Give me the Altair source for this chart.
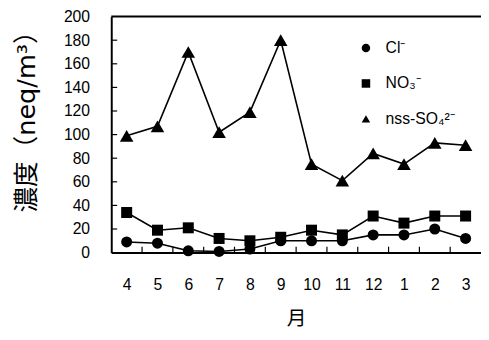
import json
import altair as alt
import pandas as pd

months = ["4", "5", "6", "7", "8", "9", "10", "11", "12", "1", "2", "3"]
series_names = ["Cl⁻", "NO₃⁻", "nss-SO₄²⁻"]
cl = [9, 8, 1.5, 1, 3, 10, 10, 10, 15, 15, 20, 12]
no3 = [34, 19, 21, 12, 10, 13, 19, 15, 31, 25, 31, 31]
so4 = [99, 107, 170, 102, 119, 180, 75, 61, 84, 75, 93, 91]
y_ticks = [20, 40, 60, 80, 100, 120, 140, 160, 180]
x_bounds = [i + 0.5 for i in range(len(months) - 1)]

rows = []
for name, vals in zip(series_names, [cl, no3, so4]):
    for i, v in enumerate(vals):
        rows.append({"idx": i, "month": months[i], "series": name, "value": v})
df = pd.DataFrame(rows)

W, H = 376, 240
FONT = "Liberation Sans"

xscale = alt.Scale(domain=[-0.5, len(months) - 0.5], nice=False, zero=False)
yscale = alt.Scale(domain=[0, 200], nice=False)

label_expr = json.dumps(months) + "[datum.value]"

x_axis = alt.Axis(
    values=list(range(len(months))),
    labelExpr=label_expr,
    labelOverlap=False,
    title="月",
    titleFont="Noto Sans CJK JP",
    titleFontSize=20,
    titleFontWeight="normal",
    titlePadding=16,
    labelFont=FONT,
    labelFontSize=16,
    labelPadding=25,
    ticks=False,
    grid=False,
    domainColor="black",
    domainWidth=2,
    labelColor="black",
    titleColor="black",
)
y_axis = alt.Axis(
    values=[0] + y_ticks + [200],
    labelOverlap=False,
    title="濃度（neq/m³）",
    titleFont="DejaVu Sans, Noto Sans CJK JP",
    titleFontSize=26,
    titleFontWeight="normal",
    titleX=-86,
    titleY=100,
    titleAlign="center",
    titleBaseline="middle",
    labelFont=FONT,
    labelFontSize=16,
    labelPadding=22,
    ticks=False,
    grid=False,
    domainColor="black",
    domainWidth=2,
    labelColor="black",
    titleColor="black",
)

legend = alt.Legend(
    title=None,
    orient="none",
    legendX=251,
    legendY=24,
    symbolSize=75,
    symbolFillColor="black",
    symbolStrokeColor="black",
    labelFont=FONT,
    labelFontSize=16,
    labelColor="black",
    rowPadding=20,
    labelOffset=12,
    padding=0,
)

shape_scale = alt.Scale(domain=series_names, range=["circle", "square", "triangle-up"])

lines = alt.Chart(df).mark_line(color="black", strokeWidth=1.6).encode(
    x=alt.X("idx:Q", scale=xscale, axis=x_axis),
    y=alt.Y("value:Q", scale=yscale, axis=y_axis),
    detail="series:N",
)

marker_sizes = [125, 125, 190]
point_layers = []
for name, sz in zip(series_names, marker_sizes):
    point_layers.append(
        alt.Chart(df)
        .transform_filter(alt.datum.series == name)
        .mark_point(filled=True, color="black", opacity=1, size=sz)
        .encode(
            x=alt.X("idx:Q", scale=xscale, axis=x_axis),
            y=alt.Y("value:Q", scale=yscale, axis=y_axis),
            shape=alt.Shape("series:N", scale=shape_scale, legend=legend),
        )
    )

tick_df = pd.DataFrame({"t": y_ticks})
yticks = alt.Chart(tick_df).mark_rule(color="black", strokeWidth=1.2).encode(
    y=alt.Y("t:Q", scale=yscale, axis=y_axis), x=alt.value(0), x2=alt.value(6)
)
xb_df = pd.DataFrame({"b": x_bounds})
xticks = alt.Chart(xb_df).mark_rule(color="black", strokeWidth=1.2).encode(
    x=alt.X("b:Q", scale=xscale, axis=x_axis), y=alt.value(H), y2=alt.value(H - 6)
)
top_df = pd.DataFrame({"top": [200]})
top_rule = alt.Chart(top_df).mark_rule(color="black", strokeWidth=2).encode(
    y=alt.Y("top:Q", scale=yscale, axis=y_axis)
)

chart = (
    alt.layer(lines, top_rule, yticks, xticks, *point_layers)
    .properties(
        width=W,
        height=H,
        autosize=alt.AutoSizeParams(type="none"),
        padding={"left": 105, "top": 6, "right": 0, "bottom": 78},
        background="white",
    )
    .configure_view(stroke=None)
)

chart.save("out.html", embed_options={"renderer": "svg", "actions": False})
